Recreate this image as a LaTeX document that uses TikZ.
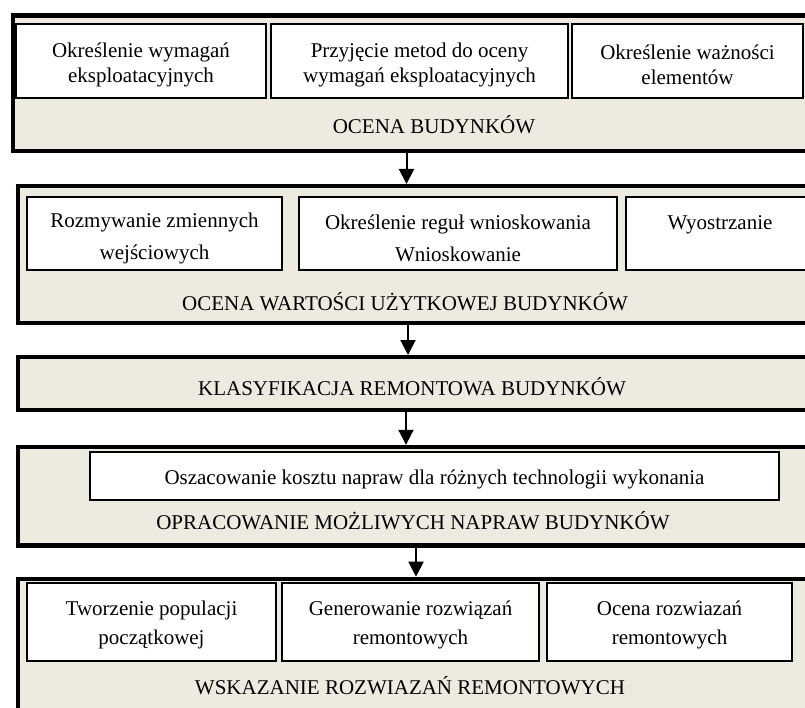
\documentclass[tikz,border=0pt]{standalone}
\usepackage{fontspec}
\setmainfont{Liberation Serif}
\usetikzlibrary{arrows.meta}
\definecolor{beige}{RGB}{237,234,224}
\begin{document}
\begin{tikzpicture}[x=1pt,y=-1pt,
  obox/.style={draw=black,line width=4.2pt,fill=beige,rectangle,anchor=north west,inner sep=0pt},
  ibox/.style={draw=black,line width=2pt,fill=white,rectangle,inner sep=0pt},
  ibox5/.style={ibox,line width=1.6pt},
  txt/.style={inner sep=0pt,align=center,font=\fontsize{21}{25.5}\selectfont},
  txt2/.style={txt,font=\fontsize{21}{31.5}\selectfont},
  txt5/.style={txt,font=\fontsize{21}{29}\selectfont},
  lbl/.style={anchor=base,inner sep=0pt,font=\fontsize{21}{27}\selectfont},
  arr/.style={line width=2pt,-{Triangle[width=15pt,length=15pt]}}]
\useasboundingbox (0,0) rectangle (805,708);
\clip (0,0) rectangle (805,708);
% outer boxes
\node[obox,minimum width=819pt,minimum height=135.2pt] (b1) at (11,13.5) {};
\node[obox,minimum width=815pt,minimum height=136.5pt] (b2) at (15.5,184) {};
\node[obox,minimum width=815pt,minimum height=53pt] (b3) at (15.5,355) {};
\node[obox,minimum width=815pt,minimum height=98.5pt] (b4) at (15.5,444.8) {};
\node[obox,minimum width=815pt,minimum height=170pt] (b5) at (15.5,576.7) {};
% box 1 contents
\node[ibox,minimum width=250pt,minimum height=74pt] (a1) at (141,61) {};
\node[ibox,minimum width=297pt,minimum height=74pt] (a2) at (419.5,61) {};
\node[ibox,minimum width=231pt,minimum height=74pt] (a3) at (687.5,61) {};
\node[txt] (ta1) at (141,65) {Określenie wymagań\\eksploatacyjnych};
\node[txt] (ta2) at (419.5,65) {Przyjęcie metod do oceny\\wymagań eksploatacyjnych};
\node[txt] (ta3) at (687.5,65) {Określenie ważności\\elementów};
\node[lbl] (l1) at (434,134) {OCENA BUDYNKÓW};
% box 2 contents
\node[ibox,minimum width=255pt,minimum height=73pt] (c1) at (154.5,233.5) {};
\node[ibox,minimum width=318pt,minimum height=73pt] (c2) at (458,233.5) {};
\node[ibox,minimum width=188pt,minimum height=73pt] (c3) at (720,233.5) {};
\node[txt2] (tc1) at (154.5,238.5) {Rozmywanie zmiennych\\wejściowych};
\node[txt2] (tc2) at (458,238.5) {Określenie reguł wnioskowania\\Wnioskowanie};
\node[txt2] (tc3) at (720,238.5) {Wyostrzanie\\\mbox{}};
\node[lbl] (l2) at (405,310) {OCENA WARTOŚCI UŻYTKOWEJ BUDYNKÓW};
% box 3
\node[lbl] (l3) at (412,395) {KLASYFIKACJA REMONTOWA BUDYNKÓW};
% box 4
\node[ibox5,minimum width=689pt,minimum height=48pt] (d1) at (434.5,476) {};
\node[txt5] (td1) at (434.5,479) {Oszacowanie kosztu napraw dla różnych technologii wykonania};
\node[lbl] (l4) at (413,529) {OPRACOWANIE MOŻLIWYCH NAPRAW BUDYNKÓW};
% box 5
\node[ibox5,minimum width=249pt,minimum height=78pt] (e1) at (151.5,622) {};
\node[ibox5,minimum width=257pt,minimum height=78pt] (e2) at (410.5,622) {};
\node[ibox5,minimum width=245pt,minimum height=78pt] (e3) at (669.5,622) {};
\node[txt5] (te1) at (151.5,625) {Tworzenie populacji\\początkowej};
\node[txt5] (te2) at (410.5,625) {Generowanie rozwiązań\\remontowych};
\node[txt5] (te3) at (669.5,625) {Ocena rozwiazań\\remontowych};
\node[lbl] (l5) at (410,694) {WSKAZANIE ROZWIAZAŃ REMONTOWYCH};
% connectors
\coordinate (x1) at (406.5,0);
\coordinate (x2) at (408,0);
\coordinate (x3) at (406,0);
\coordinate (x4) at (416,0);
\draw[arr] (x1 |- b1.south) -- (x1 |- b2.north);
\draw[arr] (x2 |- b2.south) -- (x2 |- b3.north);
\draw[arr] (x3 |- b3.south) -- (x3 |- b4.north);
\draw[arr] (x4 |- b4.south) -- (x4 |- b5.north);
\end{tikzpicture}
\end{document}
